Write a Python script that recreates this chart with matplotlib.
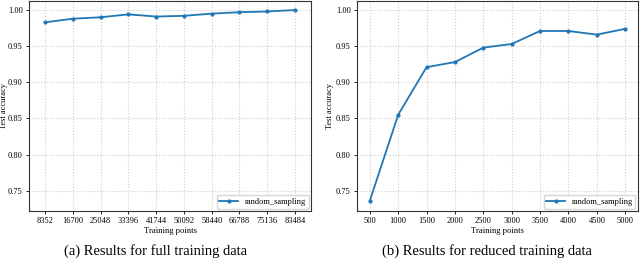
import matplotlib
matplotlib.use('Agg')
from matplotlib import pyplot as plt

plt.rcParams['font.family'] = ['Liberation Serif', 'DejaVu Serif']

full_points = [8352, 16700, 25048, 33396, 41744, 50092, 58440, 66788, 75136, 83484]
full_acc = [0.983, 0.988, 0.990, 0.994, 0.991, 0.992, 0.995, 0.997, 0.998, 1.000]

reduced_points = [500, 1000, 1500, 2000, 2500, 3000, 3500, 4000, 4500, 5000]
reduced_acc = [0.736, 0.855, 0.921, 0.928, 0.948, 0.953, 0.971, 0.971, 0.966, 0.974]

captions = ['(a) Results for full training data', '(b) Results for reduced training data']
yticks = [0.75, 0.80, 0.85, 0.90, 0.95, 1.00]

fig = plt.figure(figsize=(6.4, 2.6), dpi=100)
ax1 = fig.add_axes([29 / 640, 1 - 211 / 260, 282 / 640, 210 / 260])
ax2 = fig.add_axes([357 / 640, 1 - 211 / 260, 281 / 640, 210 / 260])

for ax, x, y, lx in [(ax1, full_points, full_acc, 8.5),
                     (ax2, reduced_points, reduced_acc, 334)]:
    ax.plot(x, y, color='#1f77b4', marker='.', markersize=4, linewidth=1.3,
            label='random_sampling')
    ax.set_xticks(x)
    ax.set_xticklabels([str(v) for v in x])
    ax.set_yticks(yticks)
    ax.set_ylim(0.722, 1.0125)
    ax.grid(True, linestyle=':', color='#cccccc', linewidth=0.8)
    ax.tick_params(labelsize=6, length=2.5, width=0.6, pad=2)
    ax.set_xlabel('Training points', fontsize=6.2, labelpad=1.5)
    ax.set_ylabel('Test accuracy', fontsize=6)
    ax.yaxis.set_label_coords(lx / 640, 1 - 106 / 260, transform=fig.transFigure)
    for s in ax.spines.values():
        s.set_color('#333333')
        s.set_linewidth(0.8)
    ax.legend(loc='lower right', fontsize=6, handlelength=2.2, borderpad=0.35,
              borderaxespad=0.3, handletextpad=0.8)

ax1.set_xlim(3500, 88300)
ax2.set_xlim(275, 5225)

fig.text(155 / 640, 1 - 251 / 260, captions[0], ha='center', va='center', fontsize=10.5)
fig.text(487 / 640, 1 - 251 / 260, captions[1], ha='center', va='center', fontsize=10.5)

fig.savefig('out.png', dpi=100)
